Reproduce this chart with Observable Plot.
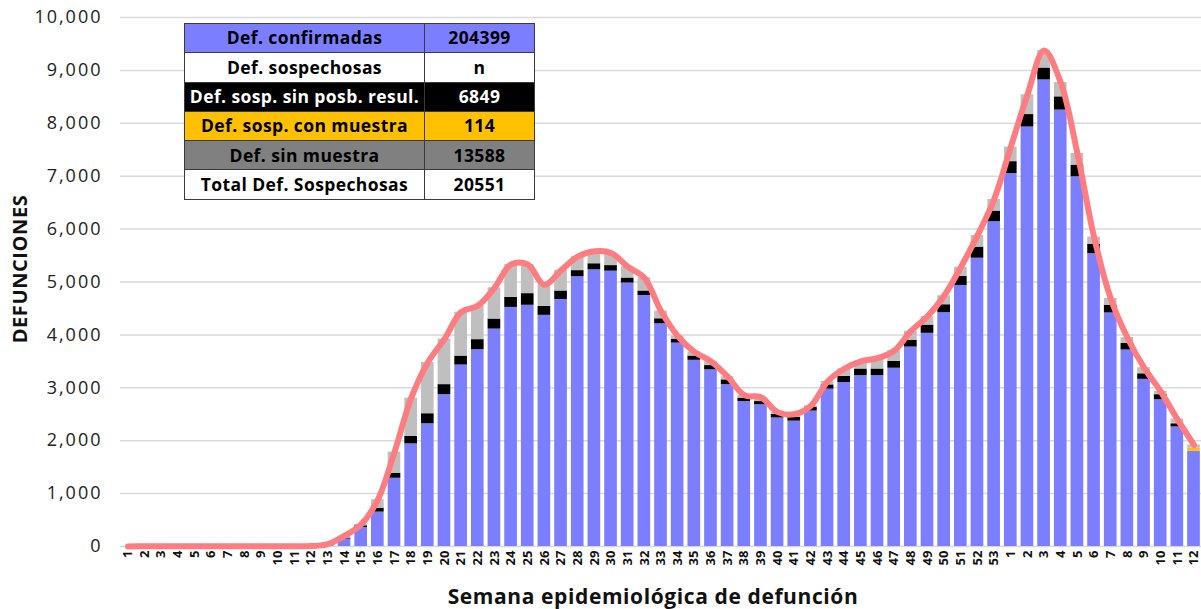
<!DOCTYPE html>
<html><head><meta charset="utf-8">
<script src="https://cdn.jsdelivr.net/npm/d3@7"></script>
<script src="https://cdn.jsdelivr.net/npm/@observablehq/plot@0.6"></script>
<style>
body{margin:0;background:#fff;font-family:"Open Sans",sans-serif;}
#wrap{position:relative;width:1201px;height:609px;}
#tbl{position:absolute;left:184px;top:23px;width:348px;table-layout:fixed;border-collapse:collapse;font-weight:700;font-size:17.5px;letter-spacing:0.4px;font-family:"Open Sans",sans-serif;}
#tbl td{border:1px solid #3a3a3a;padding:0;text-align:center;white-space:nowrap;overflow:hidden;line-height:1;}
</style></head>
<body><div id="wrap"></div>
<script>
// Week labels (2020 weeks 1–53, then 2021 weeks 1–12)
const weeks = [1,2,3,4,5,6,7,8,9,10,11,12,13,14,15,16,17,18,19,20,21,22,23,24,25,26,27,28,29,30,31,32,33,34,35,36,37,38,39,40,41,42,43,44,45,46,47,48,49,50,51,52,53,1,2,3,4,5,6,7,8,9,10,11,12];

// Series values (deaths per week)
const confirmadas = [1,2,4,4,3,2,3,3,3,2,3,6,30,140,360,650,1290,1940,2320,2870,3430,3720,4110,4520,4560,4370,4670,5100,5230,5205,4980,4745,4210,3845,3520,3340,3060,2740,2680,2430,2370,2560,2975,3100,3230,3230,3370,3770,4030,4420,4935,5450,6140,7050,7930,8820,8250,6990,5535,4415,3715,3160,2775,2260,1800];
const sinPosibResul = [0,0,0,0,0,0,0,0,0,0,0,0,3,20,32,75,95,140,190,190,170,190,190,190,220,170,160,115,115,105,95,85,95,75,80,80,90,65,60,65,75,75,80,115,125,125,130,130,155,150,170,210,200,225,235,225,250,220,180,145,125,105,95,60,0];
const conMuestra = [0,0,0,0,0,0,0,0,0,0,0,0,0,0,0,0,0,0,0,0,0,0,0,0,0,0,0,0,0,0,0,0,0,0,0,0,0,0,0,0,0,0,0,0,0,0,0,0,0,0,0,0,0,0,0,0,0,0,0,0,0,0,0,8,60];
const sinMuestra = [1,1,2,2,1,1,1,1,1,1,1,2,12,40,25,160,400,725,970,860,830,640,590,620,550,410,390,265,235,240,215,250,145,60,80,80,60,55,80,45,55,25,65,145,145,205,200,170,165,170,175,220,220,275,375,330,270,220,135,130,110,115,60,80,60];

// Stack categories and colours
const cats = ["Def. confirmadas","Def. sosp. sin posb. resul.","Def. sosp. con muestra","Def. sin muestra"];
const catColors = ["#7B7FFF","#000000","#FFC000","#BFBFBF"];

// Y ticks
const yTicks = [0,1000,2000,3000,4000,5000,6000,7000,8000,9000,10000];

// Summary table
const tblLabels = ["Def. confirmadas","Def. sospechosas","Def. sosp. sin posb. resul.","Def. sosp. con  muestra","Def. sin muestra","Total Def. Sospechosas"];
const tblValues = ["204399","n","6849","114","13588","20551"];
const tblBg = ["#7B7FFF","#FFFFFF","#000000","#FFC000","#808080","#FFFFFF"];
const tblFg = ["#000","#000","#fff","#000","#000","#000"];

const series = [confirmadas, sinPosibResul, conMuestra, sinMuestra];
const rows = [];
weeks.forEach((w, i) => series.forEach((s, j) => rows.push({i, cat: cats[j], value: s[i]})));
const totals = weeks.map((w, i) => ({i, total: series.reduce((a, s) => a + s[i], 0)}));

const chart = Plot.plot({
  width: 1201, height: 609,
  marginLeft: 120, marginRight: 0, marginTop: 17, marginBottom: 63,
  style: {fontFamily: "Open Sans, sans-serif", background: "white", color: "#222", overflow: "visible"},
  x: {type: "band", domain: d3.range(weeks.length), paddingInner: 0.24, paddingOuter: 0.07, label: null},
  y: {domain: [0, 10000], label: null},
  color: {domain: cats, range: catColors},
  marks: [
    Plot.ruleY(yTicks, {stroke: "#D9D9D9", strokeWidth: 1.5}),
    Plot.barY(rows, {x: "i", y: "value", fill: "cat", order: cats}),
    Plot.line(totals, {x: "i", y: "total", curve: "catmull-rom", stroke: "#FF7C80", strokeWidth: 6, strokeLinecap: "round", strokeLinejoin: "round"}),
    Plot.axisX({tickSize: 0, tickPadding: 4, tickRotate: -90, tickFormat: i => weeks[i], fontSize: 13, fontWeight: 700, fill: "#111", label: null}),
    Plot.axisY({ticks: yTicks, tickSize: 0, tickPadding: 18, tickFormat: d3.format(","), fontSize: 18, fill: "#222", label: null}),
    Plot.text(["DEFUNCIONES"], {text: d => d, frameAnchor: "left", textAnchor: "middle", dx: -100, dy: -13, rotate: -90, fontSize: 20, fontWeight: 700, fill: "#111"}),
    Plot.text(["Semana epidemiológica de defunción"], {text: d => d, frameAnchor: "bottom", dx: -8, dy: 57, fontSize: 21, fontWeight: 700, fill: "#111"})
  ]
});

const wrap = document.getElementById("wrap");
wrap.appendChild(chart);
d3.select(chart).selectAll("g[aria-label='y-axis tick label'] text").style("letter-spacing", "2px");
d3.select(chart).selectAll("g[aria-label='text'] text").style("letter-spacing", "0.6px");

const table = document.createElement("table");
table.id = "tbl";
tblLabels.forEach((lab, k) => {
  const tr = document.createElement("tr");
  tr.style.height = "29.3px";
  const td1 = document.createElement("td");
  td1.textContent = lab;
  td1.style.width = "239px";
  const td2 = document.createElement("td");
  td2.textContent = tblValues[k];
  td2.style.width = "109px";
  [td1, td2].forEach(td => { td.style.background = tblBg[k]; td.style.color = tblFg[k]; });
  tr.appendChild(td1); tr.appendChild(td2);
  table.appendChild(tr);
});
wrap.appendChild(table);
</script></body></html>
